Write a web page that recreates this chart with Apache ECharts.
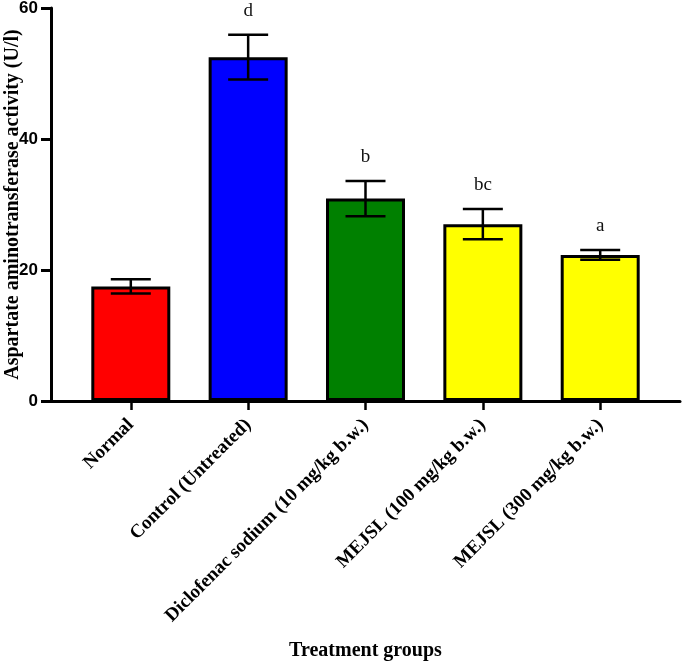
<!DOCTYPE html>
<html>
<head>
<meta charset="utf-8">
<script src="https://cdn.jsdelivr.net/npm/echarts@6/dist/echarts.min.js"></script>
<style>html,body{margin:0;padding:0;background:#fff}#c{width:685px;height:663px}</style>
</head>
<body>
<div id="c"></div>
<script>
var categories = ['Normal', 'Control (Untreated)', 'Diclofenac sodium (10 mg/kg b.w.)', 'MEJSL (100 mg/kg b.w.)', 'MEJSL (300 mg/kg b.w.)'];
var means = [17.5, 52.5, 30.9, 27.0, 22.3];
var errors = [1.1, 3.4, 2.7, 2.3, 0.75];
var letters = ['', 'd', 'b', 'bc', 'a'];
var colors = ['#ff0000', '#0000ff', '#008000', '#ffff00', '#ffff00'];
var yTicks = [0, 20, 40, 60];

var serif = '"Liberation Serif", "Times New Roman", serif';
var chart = echarts.init(document.getElementById('c'));
var tickIdx = categories.map(function (c, i) { return i; });

var barData = means.map(function (m, i) {
  return { value: [i, m], itemStyle: { color: colors[i] } };
});
var errData = means.map(function (m, i) { return [i, m, errors[i]]; });

chart.setOption({
  animation: false,
  grid: { left: 51, right: 5, top: 8, bottom: 262, containLabel: false, outerBoundsMode: 'none' },
  xAxis: {
    type: 'value',
    min: -0.68,
    max: 4.68,
    name: 'Treatment groups',
    nameLocation: 'middle',
    nameGap: 240,
    nameMoveOverlap: false,
    nameTextStyle: { fontFamily: serif, fontWeight: 'bold', fontSize: 20, color: '#000' },
    axisLine: { show: true, onZero: false, lineStyle: { color: '#000', width: 3 } },
    axisTick: { show: true, customValues: tickIdx, length: 9, lineStyle: { color: '#000', width: 2.5 } },
    axisLabel: {
      customValues: tickIdx,
      rotate: 45,
      margin: 21,
      fontFamily: serif, fontWeight: 'bold', fontSize: 19, color: '#000',
      formatter: function (v) { return categories[Math.round(v)]; }
    },
    splitLine: { show: false }
  },
  yAxis: {
    type: 'value',
    min: 0,
    max: 60,
    interval: 20,
    name: 'Aspartate aminotransferase activity (U/l)',
    nameLocation: 'middle',
    nameGap: 28,
    nameMoveOverlap: false,
    nameTextStyle: { fontFamily: serif, fontWeight: 'bold', fontSize: 20, color: '#000' },
    axisLine: { show: true, onZero: false, lineStyle: { color: '#000', width: 3 } },
    axisTick: { show: true, length: 10, lineStyle: { color: '#000', width: 3 } },
    axisLabel: {
      margin: 13,
      fontFamily: 'Arial, "Liberation Sans", sans-serif', fontWeight: 'bold', fontSize: 17, color: '#000',
      formatter: function (v) { return yTicks.indexOf(v) >= 0 ? String(v) : ''; }
    },
    splitLine: { show: false }
  },
  series: [
    {
      type: 'bar',
      data: barData,
      barWidth: 79,
      itemStyle: { borderColor: '#000', borderWidth: 3 },
      z: 2
    },
    {
      type: 'custom',
      data: errData,
      z: 5,
      renderItem: function (params, api) {
        var x = api.value(0), m = api.value(1), e = api.value(2);
        var top = api.coord([x, m + e]);
        var bot = api.coord([x, m - e]);
        var hw = 20;
        var st = { stroke: '#000', lineWidth: 2.5 };
        var idx = params.dataIndex;
        return {
          type: 'group',
          children: [
            { type: 'line', shape: { x1: top[0], y1: top[1], x2: bot[0], y2: bot[1] }, style: st },
            { type: 'line', shape: { x1: top[0] - hw, y1: top[1], x2: top[0] + hw, y2: top[1] }, style: st },
            { type: 'line', shape: { x1: bot[0] - hw, y1: bot[1], x2: bot[0] + hw, y2: bot[1] }, style: st },
            {
              type: 'text',
              style: {
                text: letters[idx], x: top[0], y: top[1] - 24,
                align: 'center', verticalAlign: 'middle',
                font: '19px ' + serif, fill: '#111'
              }
            }
          ]
        };
      }
    }
  ]
});
</script>
</body>
</html>
